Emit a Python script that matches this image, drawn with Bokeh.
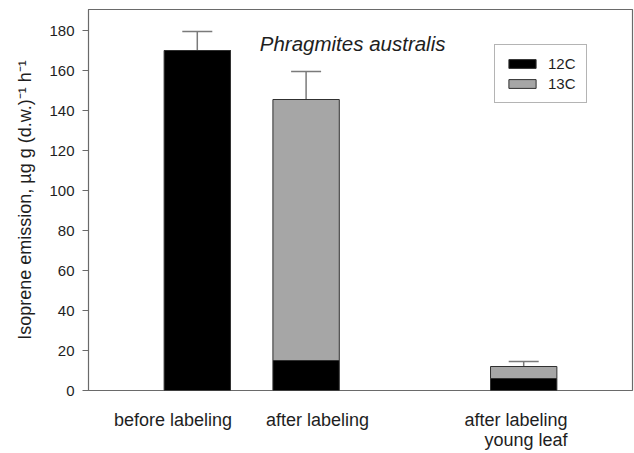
from bokeh.plotting import figure
from bokeh.models import (ColumnDataSource, Range1d, FixedTicker, Label, Legend,
                          Whisker, TeeHead, LinearAxis)
from bokeh.embed import file_html
from bokeh.resources import INLINE

# Isoprene emission of Phragmites australis, split into 12C and 13C parts
groups = ["before labeling", "after labeling", "after labeling\nyoung leaf"]
group_pos = [1, 2, 4]
c12 = [170.0, 15.0, 6.0]
c13 = [0.0, 130.5, 6.0]
err = [9.5, 14.0, 2.5]
y_ticks = [0, 20, 40, 60, 80, 100, 120, 140, 160, 180]

total = [a + b for a, b in zip(c12, c13)]
src = ColumnDataSource(dict(x=group_pos, c12=c12, c13=c13, total=total,
                            upper=[t + e for t, e in zip(total, err)]))

FONT = "Liberation Sans"
TXT = "#1e1e1e"
AXC = "#6a6a6a"

p = figure(width=634, height=453, output_backend="svg", toolbar_location=None,
           x_range=Range1d(0, 5), y_range=Range1d(0, 190.5),
           min_border_left=88, min_border_right=2, min_border_top=9,
           min_border_bottom=63)

bars = p.vbar_stack(["c12", "c13"], x="x", width=0.61, source=src,
                    fill_color=["#000000", "#a6a6a6"], line_color="#303030",
                    line_width=1)

p.add_layout(Whisker(source=src, base="x", lower="total", upper="upper",
                     dimension="height", line_color="#7a7a7a", line_width=1.5,
                     upper_head=TeeHead(size=30, line_color="#7a7a7a", line_width=1.5),
                     lower_head=None))

p.xgrid.visible = False
p.ygrid.visible = False
p.outline_line_color = AXC
p.outline_line_width = 1.2

# y axis
ya = p.yaxis[0]
ya.ticker = FixedTicker(ticks=y_ticks)
ya.minor_tick_line_color = None
ya.major_tick_in = 0
ya.major_tick_out = 6
ya.major_tick_line_color = AXC
ya.axis_line_color = AXC
ya.major_label_standoff = 8
ya.major_label_text_font = FONT
ya.major_label_text_font_size = "15px"
ya.major_label_text_color = TXT
ya.axis_label = "Isoprene emission, \u00b5g g (d.w.)\u207b\u00b9 h\u207b\u00b9"
ya.axis_label_text_font = FONT
ya.axis_label_text_font_size = "18px"
ya.axis_label_text_font_style = "normal"
ya.axis_label_text_color = TXT
ya.axis_label_standoff = 11

# group names: first lines on the main x axis, second lines on an extra axis below
line_shift = [[-0.223], [0.105], [-0.071, 0.021]]
rows = [{}, {}]
for pos, name, shifts in zip(group_pos, groups, line_shift):
    for i, (line, s) in enumerate(zip(name.split("\n"), shifts)):
        rows[i][pos + s] = line


def style_cat_axis(ax, labels, standoff):
    ax.ticker = FixedTicker(ticks=list(labels.keys()))
    ax.major_label_overrides = labels
    ax.major_tick_line_color = None
    ax.minor_tick_line_color = None
    ax.axis_line_color = None
    ax.major_tick_in = 0
    ax.major_tick_out = 0
    ax.major_label_standoff = standoff
    ax.major_label_text_font = FONT
    ax.major_label_text_font_size = "18px"
    ax.major_label_text_color = TXT


style_cat_axis(p.xaxis[0], rows[0], 19)
ax2 = LinearAxis()
style_cat_axis(ax2, rows[1], -3)
p.add_layout(ax2, "below")

# species name
p.add_layout(Label(x=1.574, y=173.5, text="Phragmites australis",
                   text_font=FONT, text_font_size="20.5px", text_font_style="italic",
                   text_color=TXT, text_align="left", text_baseline="alphabetic"))

legend = Legend(items=[("12C", [bars[0]]), ("13C", [bars[1]])],
                location=(406, 287), orientation="vertical",
                border_line_color=AXC, border_line_width=1,
                background_fill_color="white", background_fill_alpha=1,
                padding=10, spacing=3, margin=0,
                glyph_width=34, glyph_height=11, label_standoff=9,
                label_height=11,
                label_text_font=FONT, label_text_font_size="15px",
                label_text_color=TXT)
p.add_layout(legend)

open("out.html", "w").write(file_html(p, INLINE))
